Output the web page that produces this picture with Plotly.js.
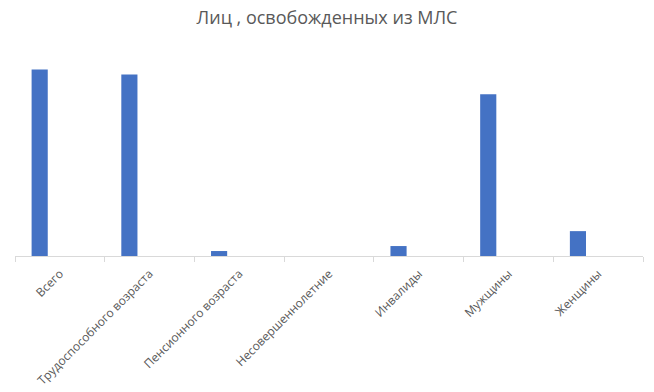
<!DOCTYPE html>
<html><head><meta charset="utf-8">
<script src="https://cdn.plot.ly/plotly-3.0.1.min.js"></script>
<style>html,body{margin:0;padding:0;background:#fff}</style>
</head><body>
<div id="chart" style="width:654px;height:392px"></div>
<script>
const categories = ["Всего","Трудоспособного возраста","Пенсионного возраста","Несовершеннолетние","Инвалиды","Мужщины","Женщины"];
const values = [75, 73, 2, 0, 4, 65, 10];
const chartTitle = "Лиц , освобожденных из МЛС";

Plotly.newPlot("chart", [{
  type: "bar", x: categories, y: values,
  width: 0.18, offset: -0.315,
  marker: {color: "#4472C4"}, hoverinfo: "x+y"
}], {
  width: 654, height: 392,
  margin: {l: 15, r: 11, t: 57, b: 136},
  paper_bgcolor: "#fff", plot_bgcolor: "#fff",
  showlegend: false,
  title: {text: chartTitle, x: 0.5, xanchor: "center", y: 0.955, yanchor: "middle",
          font: {family: "Open Sans, Liberation Sans, sans-serif", size: 18, color: "#595959"}},
  font: {family: "Open Sans, Liberation Sans, sans-serif", color: "#595959"},
  xaxis: {type: "category", showline: true, linecolor: "#d9d9d9", linewidth: 1,
          ticks: "outside", tickson: "boundaries", ticklen: 5, tickcolor: "#d9d9d9",
          ticklabelstandoff: 5,
          tickangle: -45, tickfont: {size: 12, color: "#595959"}, showgrid: false, zeroline: false},
  yaxis: {range: [0, 80], visible: false, showgrid: false, zeroline: false}
}, {displayModeBar: false, staticPlot: true});
</script>
</body></html>
